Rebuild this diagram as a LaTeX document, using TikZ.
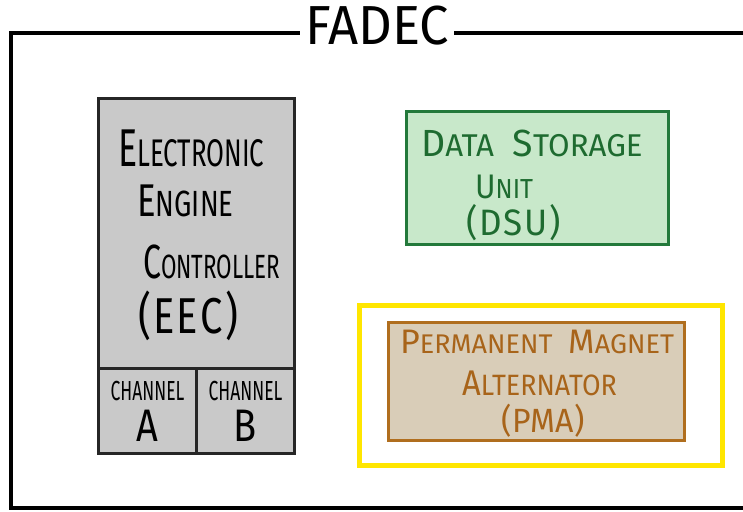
\documentclass[tikz,border=0pt]{standalone}
\usepackage{fontspec}
\setmainfont{Fira Sans}
\definecolor{eecfill}{HTML}{C9C9C9}
\definecolor{eecdraw}{HTML}{262626}
\definecolor{dsufill}{HTML}{C8E8CA}
\definecolor{dsudraw}{HTML}{23793B}
\definecolor{dsutext}{HTML}{1E6B30}
\definecolor{pmafill}{HTML}{D9CDB8}
\definecolor{pmadraw}{HTML}{B06E1E}
\definecolor{pmatext}{HTML}{A8641A}
\definecolor{ylw}{HTML}{FFE600}
\newcommand{\fs}[2]{{\fontsize{#1}{#1}\selectfont #2}}
\newcommand{\sq}[3]{\scalebox{#1}[#2]{#3}}
\tikzset{
  frame/.style={line width=3.5pt, draw=black},
  box/.style={line width=3pt, inner sep=0pt, anchor=north west},
  txt/.style={inner sep=0pt, anchor=base west},
}
\begin{document}
\begin{tikzpicture}[x=1pt,y=-1pt]
\useasboundingbox (0,0) rectangle (743,511);
\fill[white] (0,0) rectangle (743,511);
% outer frame
\node[font=\fontsize{50}{50}\selectfont, inner sep=5pt] (fadec) at (377,26) {\sq{1.05}{1.1}{FADEC}};
\coordinate (ftr) at (745,33);
\coordinate (ftl) at (11,33);
\coordinate (fbl) at (11,508);
\coordinate (fbr) at (745,508);
\draw[frame] (ftl -| fadec.west) -- (ftl) -- (fbl) -- (fbr);
\draw[frame] (ftr -| fadec.east) -- (ftr);
% EEC
\node[box, draw=eecdraw, fill=eecfill, minimum width=196pt, minimum height=270pt] (eec) at (97,97) {};
\node[box, draw=eecdraw, fill=eecfill, minimum width=98pt, minimum height=85pt] (cha) at (97,367) {};
\node[box, draw=eecdraw, fill=eecfill, minimum width=98pt, minimum height=85pt] (chb) at (195,367) {};
\node[txt] (eec1) at (118,166) {\sq{0.94}{1.4}{\fs{38}{E}\fs{27.5}{LECTRONIC}}};
\node[txt] (eec2) at (137,216) {\sq{1.02}{1.35}{\fs{34}{E}\fs{27}{NGINE}}};
\node[txt] (eec3) at (143,278) {\sq{0.8}{1.2}{\fs{40}{C}\fs{28}{ONTROLLER}}};
\node[txt] (eec4) at (138,333) {\sq{0.95}{1.2}{\fs{42}{(\hspace{2pt}E\hspace{2pt}E\hspace{3pt}C\hspace{3pt})}}};
\node[txt, anchor=base] (cha1) at (cha.north |- 0,400) {\sq{0.92}{1.45}{\fs{19}{CHANNEL}}};
\node[txt, anchor=base] (cha2) at (cha.north |- 0,441) {\sq{1}{1.2}{\fs{38}{A}}};
\node[txt, anchor=base] (chb1) at (chb.north |- 0,400) {\sq{0.92}{1.45}{\fs{19}{CHANNEL}}};
\node[txt, anchor=base] (chb2) at (chb.north |- 0,441) {\sq{1}{1.2}{\fs{38}{B}}};
% DSU
\node[box, draw=dsudraw, fill=dsufill, minimum width=262pt, minimum height=133pt] (dsu) at (405,110) {};
\node[txt, text=dsutext] (dsu1) at (421,156) {\sq{1.04}{1.05}{\fs{36}{D}\fs{30}{ATA}\hspace{18pt}\fs{36}{S}\fs{30}{TORAGE}}};
\node[txt, text=dsutext] (dsu2) at (475,198) {\sq{1}{1.1}{\fs{31}{U}\fs{25}{NIT}}};
\node[txt, text=dsutext] (dsu3) at (466,235) {\sq{1}{1.05}{\fs{35}{(\hspace{2pt}D\hspace{1pt}S\hspace{2pt}U\hspace{2pt})}}};
% PMA
\node[box, draw=ylw, line width=5pt, minimum width=363pt, minimum height=160pt] (ybox) at (357,303) {};
\node[box, draw=pmadraw, fill=pmafill, minimum width=296pt, minimum height=118pt] (pma) at (387,321) {};
\node[txt, text=pmatext] (pma1) at (400,353) {\fs{34}{P}\fs{27}{ERMANENT}\hspace{16pt}\fs{34}{M}\fs{27}{AGNET}};
\node[txt, text=pmatext] (pma2) at (462,395) {\sq{0.96}{1.05}{\fs{34}{A}\fs{28}{LTERNATOR}}};
\node[txt, text=pmatext] (pma3) at (501,432) {\sq{1}{1.05}{\fs{32}{(\hspace{1pt}PMA\hspace{1pt})}}};
\end{tikzpicture}
\end{document}
